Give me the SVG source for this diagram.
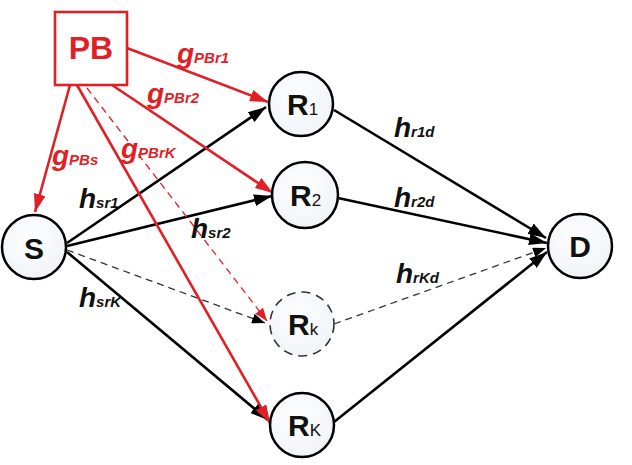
<svg xmlns="http://www.w3.org/2000/svg" width="632" height="465" viewBox="0 0 632 465">
<style>
.node{fill:url(#cg);stroke:#000;stroke-width:2.5}
.dnode{fill:url(#cg);stroke:#333;stroke-width:1.6;stroke-dasharray:9,6}
.nl{font-family:"Liberation Sans",Arial,sans-serif;font-weight:bold;font-size:30px;fill:#111}
.ns{font-family:"Liberation Sans",Arial,sans-serif;font-size:17px;fill:#111}
.bk{stroke:#000;stroke-width:2.6;fill:none}
.bkd{stroke:#333;stroke-width:1.3;fill:none;stroke-dasharray:7,5}
.rd{stroke:#e01f26;stroke-width:2.6;fill:none}
.rdd{stroke:#e01f26;stroke-width:1.3;fill:none;stroke-dasharray:7,5}
.lb{font-family:"Liberation Sans",Arial,sans-serif;font-weight:bold;font-style:italic;font-size:28px}
.sb{font-size:15px}
.red{fill:#e01f26}
.blk{fill:#111}
</style>
<defs>
<radialGradient id="cg" cx="0.45" cy="0.4" r="0.6">
<stop offset="0" stop-color="#ffffff"/>
<stop offset="1" stop-color="#f1f3f8"/>
</radialGradient>
<marker id="ab" markerUnits="userSpaceOnUse" markerWidth="20" markerHeight="12" refX="18" refY="6" orient="auto"><path d="M0,0 L18,6 L0,12 z" fill="#000"/></marker>
<marker id="ar" markerUnits="userSpaceOnUse" markerWidth="20" markerHeight="12" refX="18" refY="6" orient="auto"><path d="M0,0 L18,6 L0,12 z" fill="#e01f26"/></marker>
<marker id="abs" markerUnits="userSpaceOnUse" markerWidth="14" markerHeight="10" refX="13" refY="5" orient="auto"><path d="M0,0 L13,5 L0,10 z" fill="#000"/></marker>
<marker id="ars" markerUnits="userSpaceOnUse" markerWidth="14" markerHeight="10" refX="13" refY="5" orient="auto"><path d="M0,0 L13,5 L0,10 z" fill="#e01f26"/></marker>
</defs>
<rect width="632" height="465" fill="#fff"/>
<g id="connectors">
<path class="bk" d="M67,243 L266,107" marker-end="url(#ab)"/>
<path class="bk" d="M67,246 L272,196" marker-end="url(#ab)"/>
<path class="bkd" d="M67,250 L265,323" marker-end="url(#abs)"/>
<path class="bk" d="M67,252 L268,420" marker-end="url(#ab)"/>
<path class="bk" d="M334,110 L546,238" marker-end="url(#ab)"/>
<path class="bk" d="M338,198 L547,243" marker-end="url(#ab)"/>
<path class="bkd" d="M334,324 L546,248" marker-end="url(#abs)"/>
<path class="bk" d="M334,422 L547,252" marker-end="url(#ab)"/>
<path class="rd" d="M127,48 L268,102" marker-end="url(#ar)"/>
<path class="rd" d="M112,85 L273,193" marker-end="url(#ar)"/>
<path class="rd" d="M70,85 L35,212" marker-end="url(#ar)"/>
<path class="rdd" d="M87,88 L267,321" marker-end="url(#ars)"/>
<path class="rd" d="M77,85 L270,423" marker-end="url(#ar)"/>
</g>
<g id="PB">
<rect x="55" y="12" width="72" height="73" fill="#fff" stroke="#e01f26" stroke-width="2.6"/>
<text x="91" y="59" text-anchor="middle" font-family="Liberation Sans,Arial,sans-serif" font-weight="bold" font-size="32" fill="#e01f26">PB</text>
</g>
<g id="S">
<circle class="node" cx="34" cy="247" r="32"/>
<text class="nl" x="34" y="259" text-anchor="middle">S</text>
</g>
<g id="R1">
<circle class="node" cx="301" cy="104" r="32"/>
<text x="287" y="115"><tspan class="nl">R</tspan><tspan class="ns">1</tspan></text>
</g>
<g id="R2">
<circle class="node" cx="305" cy="195" r="33"/>
<text x="290" y="206"><tspan class="nl">R</tspan><tspan class="ns">2</tspan></text>
</g>
<g id="Rk">
<circle class="dnode" cx="302" cy="324" r="32"/>
<text x="288" y="335"><tspan class="nl">R</tspan><tspan class="ns">k</tspan></text>
</g>
<g id="RK">
<circle class="node" cx="302" cy="425" r="32"/>
<text x="288" y="436"><tspan class="nl">R</tspan><tspan class="ns">K</tspan></text>
</g>
<g id="D">
<circle class="node" cx="580" cy="246" r="32"/>
<text class="nl" x="580" y="257" text-anchor="middle">D</text>
</g>
<g id="labels">
<text class="lb red" x="177" y="63">g<tspan class="sb">PBr1</tspan></text>
<text class="lb red" x="147" y="103">g<tspan class="sb">PBr2</tspan></text>
<text class="lb red" x="52" y="165">g<tspan class="sb">PBs</tspan></text>
<text class="lb red" x="121" y="158">g<tspan class="sb">PBrK</tspan></text>
<text class="lb blk" x="79" y="208">h<tspan class="sb">sr1</tspan></text>
<text class="lb blk" x="191" y="238">h<tspan class="sb">sr2</tspan></text>
<text class="lb blk" x="79" y="307">h<tspan class="sb">srK</tspan></text>
<text class="lb blk" x="394" y="137">h<tspan class="sb">r1d</tspan></text>
<text class="lb blk" x="394" y="207">h<tspan class="sb">r2d</tspan></text>
<text class="lb blk" x="396" y="283">h<tspan class="sb">rKd</tspan></text>
</g>
</svg>
